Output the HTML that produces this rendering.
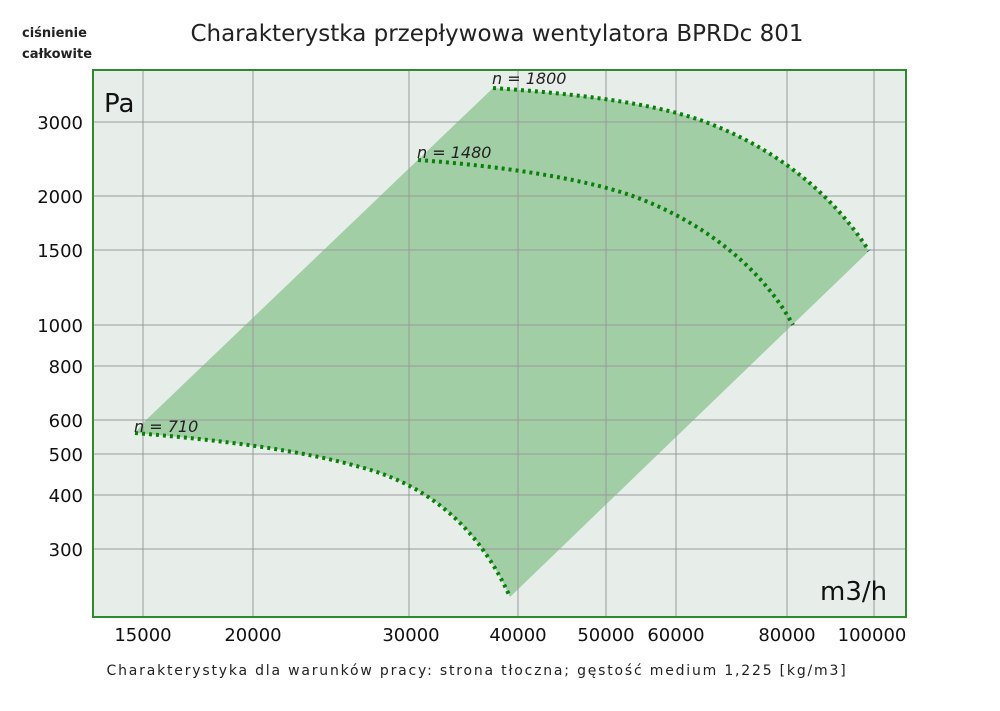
<!DOCTYPE html>
<html><head><meta charset="utf-8"><style>
body{margin:0;background:#fff;}
svg text{font-family:"DejaVu Sans","Liberation Sans",sans-serif;}
</style></head><body>
<svg width="1000" height="706" viewBox="0 0 1000 706" xmlns="http://www.w3.org/2000/svg">
<rect width="1000" height="706" fill="#fff"/>
<text x="22" y="37" font-size="13" font-weight="bold" fill="#222">ciśnienie</text>
<text x="22" y="58" font-size="13" font-weight="bold" fill="#222">całkowite</text>
<text x="497" y="41" font-size="23" text-anchor="middle" fill="#222">Charakterystka przepływowa wentylatora BPRDc 801</text>
<rect x="93" y="70" width="813" height="547" fill="#e7eeea"/>
<path d="M145,421 L493,88 C580,94 650,103 700,120 C770,145 830,190 869,251 L510,597 C480,530 430,485 360,467 C300,450 220,440 135,433 Z" fill="#a2cea6"/>
<g stroke="#999" stroke-width="1">
<line x1="143" y1="70" x2="143" y2="617"/><line x1="253" y1="70" x2="253" y2="617"/>
<line x1="409" y1="70" x2="409" y2="617"/><line x1="518" y1="70" x2="518" y2="617"/>
<line x1="606" y1="70" x2="606" y2="617"/><line x1="676" y1="70" x2="676" y2="617"/>
<line x1="787" y1="70" x2="787" y2="617"/><line x1="874" y1="70" x2="874" y2="617"/>
<line x1="93" y1="122" x2="906" y2="122"/><line x1="93" y1="196" x2="906" y2="196"/>
<line x1="93" y1="250" x2="906" y2="250"/><line x1="93" y1="325" x2="906" y2="325"/>
<line x1="93" y1="366" x2="906" y2="366"/><line x1="93" y1="420" x2="906" y2="420"/>
<line x1="93" y1="454" x2="906" y2="454"/><line x1="93" y1="495" x2="906" y2="495"/>
<line x1="93" y1="549" x2="906" y2="549"/>
</g>
<rect x="93" y="70" width="813" height="547" fill="none" stroke="#2e8b2e" stroke-width="2"/>
<g fill="none" stroke="#0a800a" stroke-width="4" stroke-dasharray="3,4">
<path d="M493,88 C580,94 650,103 700,120 C770,145 830,190 869,251"/>
<path d="M418,160 C500,166 580,178 630,195 C700,220 760,265 793,325"/>
<path d="M135,433 C220,440 300,450 360,467 C430,485 480,530 510,597"/>
</g>
<g font-size="16" font-style="italic" fill="#222">
<text x="492" y="84">n = 1800</text>
<text x="417" y="158">n = 1480</text>
<text x="134" y="432">n = 710</text>
</g>
<text x="104" y="112" font-size="26" fill="#111">Pa</text>
<text x="820" y="600" font-size="26" fill="#111">m3/h</text>
<g font-size="18" fill="#111" text-anchor="end">
<text x="83" y="129">3000</text><text x="83" y="203">2000</text><text x="83" y="257">1500</text>
<text x="83" y="332">1000</text><text x="83" y="373">800</text><text x="83" y="427">600</text>
<text x="83" y="461">500</text><text x="83" y="502">400</text><text x="83" y="556">300</text>
</g>
<g font-size="18" fill="#111" text-anchor="middle">
<text x="143" y="641">15000</text><text x="253" y="641">20000</text><text x="411" y="641">30000</text>
<text x="518" y="641">40000</text><text x="606" y="641">50000</text><text x="676" y="641">60000</text>
<text x="787" y="641">80000</text><text x="872" y="641">100000</text>
</g>
<text x="477" y="675" font-size="14" fill="#222" text-anchor="middle" letter-spacing="1.8">Charakterystyka dla warunków pracy: strona tłoczna; gęstość medium 1,225 [kg/m3]</text>
</svg>
</body></html>
